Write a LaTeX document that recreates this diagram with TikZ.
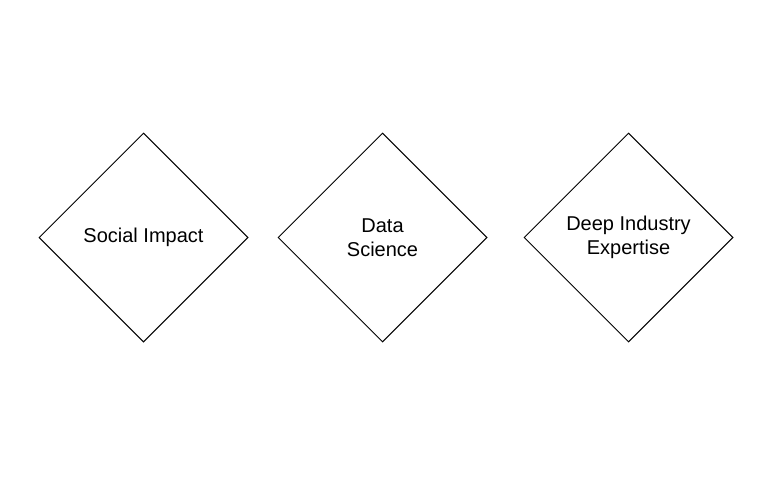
\documentclass[tikz,border=0pt]{standalone}
\usepackage{fontspec}
\setmainfont{Liberation Sans}
\usetikzlibrary{shapes.geometric}
\begin{document}
\begin{tikzpicture}[x=1pt,y=-1pt,
  box/.style={draw=black, line width=1pt, diamond, aspect=1, minimum width=209pt, minimum height=209pt, inner sep=0pt, align=center, font=\fontsize{20}{24}\selectfont}]
\useasboundingbox (0,0) rectangle (762,476);
\node[box] (social) at (143.5,237.5) {Social Impact};
\node[box] (data) at (382.5,237.5) {Data\\Science};
\node[box] (deep) at (628.5,237.5) {Deep Industry\\Expertise};
\end{tikzpicture}
\end{document}
